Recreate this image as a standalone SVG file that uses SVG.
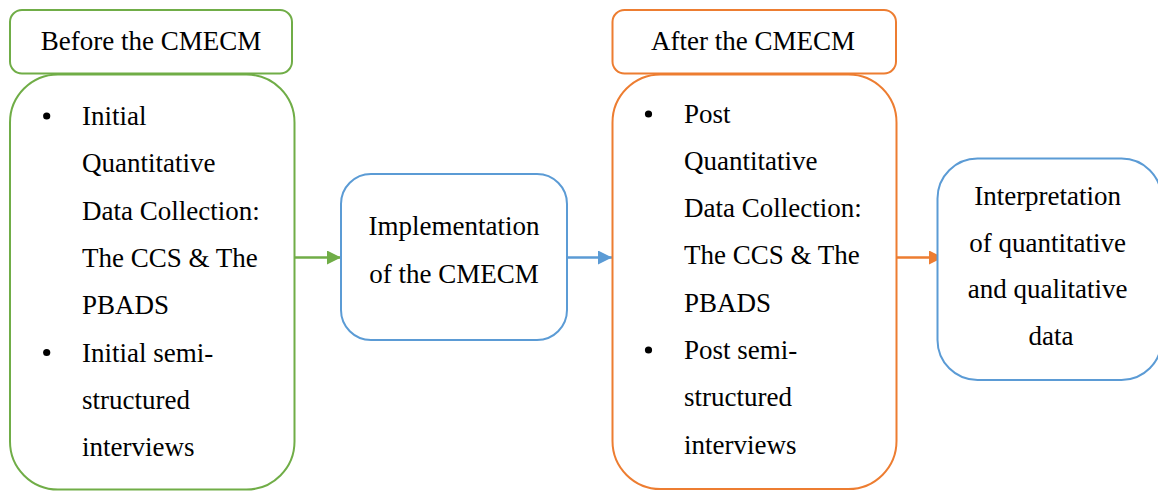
<svg xmlns="http://www.w3.org/2000/svg" width="1158" height="491" viewBox="0 0 1158 491">
  <defs>
    <marker id="arrow-green" markerWidth="14" markerHeight="14" refX="14" refY="7" orient="auto" markerUnits="userSpaceOnUse">
      <path d="M0,0 L14,7 L0,14 Z" fill="#70AD47"/>
    </marker>
    <marker id="arrow-blue" markerWidth="14" markerHeight="14" refX="14" refY="7" orient="auto" markerUnits="userSpaceOnUse">
      <path d="M0,0 L14,7 L0,14 Z" fill="#5B9BD5"/>
    </marker>
    <marker id="arrow-orange" markerWidth="14" markerHeight="14" refX="14" refY="7" orient="auto" markerUnits="userSpaceOnUse">
      <path d="M0,0 L14,7 L0,14 Z" fill="#ED7D31"/>
    </marker>
  </defs>
  <style>
    .box { fill: #FFFFFF; stroke-width: 2; }
    .green { stroke: #70AD47; }
    .blue { stroke: #5B9BD5; }
    .orange { stroke: #ED7D31; }
    .mid { text-anchor: middle; }
    .dot { fill: #000000; }
    .conn { fill: none; stroke-width: 2.5; }
  </style>
  <rect width="1158" height="491" fill="#FFFFFF"/>

  <!-- connectors -->
  <g id="connectors">
    <line class="conn green" x1="295" y1="257.5" x2="341" y2="257.5" marker-end="url(#arrow-green)"/>
    <line class="conn blue" x1="567" y1="257.5" x2="612" y2="257.5" marker-end="url(#arrow-blue)"/>
    <line class="conn orange" x1="897" y1="257.5" x2="943" y2="257.5" marker-end="url(#arrow-orange)"/>
  </g>

  <g font-family="Liberation Serif, serif" font-size="27" fill="#000000">
    <!-- before phase -->
    <g id="before-header">
      <rect class="box green" x="10" y="10" width="282" height="63.5" rx="12"/>
      <text class="mid" x="151" y="50">Before the CMECM</text>
    </g>
    <g id="before-body">
      <rect class="box green" x="10" y="74.5" width="284.5" height="415" rx="48"/>
      <circle class="dot" cx="46.7" cy="116" r="3.6"/>
      <circle class="dot" cx="46.7" cy="352.5" r="3.6"/>
      <text x="82">
        <tspan x="82" y="125">Initial</tspan>
        <tspan x="82" y="172.3">Quantitative</tspan>
        <tspan x="82" y="219.6">Data Collection:</tspan>
        <tspan x="82" y="266.9">The CCS &amp; The</tspan>
        <tspan x="82" y="314.2">PBADS</tspan>
        <tspan x="82" y="361.5">Initial semi-</tspan>
        <tspan x="82" y="408.8">structured</tspan>
        <tspan x="82" y="456.1">interviews</tspan>
      </text>
    </g>

    <!-- implementation -->
    <g id="implementation">
      <rect class="box blue" x="341" y="174" width="226" height="166" rx="30"/>
      <text class="mid" x="454" y="235">Implementation</text>
      <text class="mid" x="454" y="282.5">of the CMECM</text>
    </g>

    <!-- after phase -->
    <g id="after-header">
      <rect class="box orange" x="612.5" y="10" width="283.5" height="63.5" rx="12"/>
      <text class="mid" x="753" y="50">After the CMECM</text>
    </g>
    <g id="after-body">
      <rect class="box orange" x="612.5" y="74.5" width="284" height="414.5" rx="48"/>
      <circle class="dot" cx="648.5" cy="114" r="3.6"/>
      <circle class="dot" cx="648.5" cy="350" r="3.6"/>
      <text x="684">
        <tspan x="684" y="122.5">Post</tspan>
        <tspan x="684" y="169.8">Quantitative</tspan>
        <tspan x="684" y="217.1">Data Collection:</tspan>
        <tspan x="684" y="264.4">The CCS &amp; The</tspan>
        <tspan x="684" y="311.7">PBADS</tspan>
        <tspan x="684" y="359">Post semi-</tspan>
        <tspan x="684" y="406.3">structured</tspan>
        <tspan x="684" y="453.6">interviews</tspan>
      </text>
    </g>

    <!-- interpretation -->
    <g id="interpretation">
      <rect class="box blue" x="937.5" y="158.5" width="224" height="221.5" rx="40"/>
      <text class="mid" x="1051">
        <tspan x="1051" y="205">Interpretation</tspan>
        <tspan x="1051" y="251.7">of quantitative</tspan>
        <tspan x="1051" y="298.3">and qualitative</tspan>
        <tspan x="1051" y="345">data</tspan>
      </text>
    </g>
  </g>
</svg>
